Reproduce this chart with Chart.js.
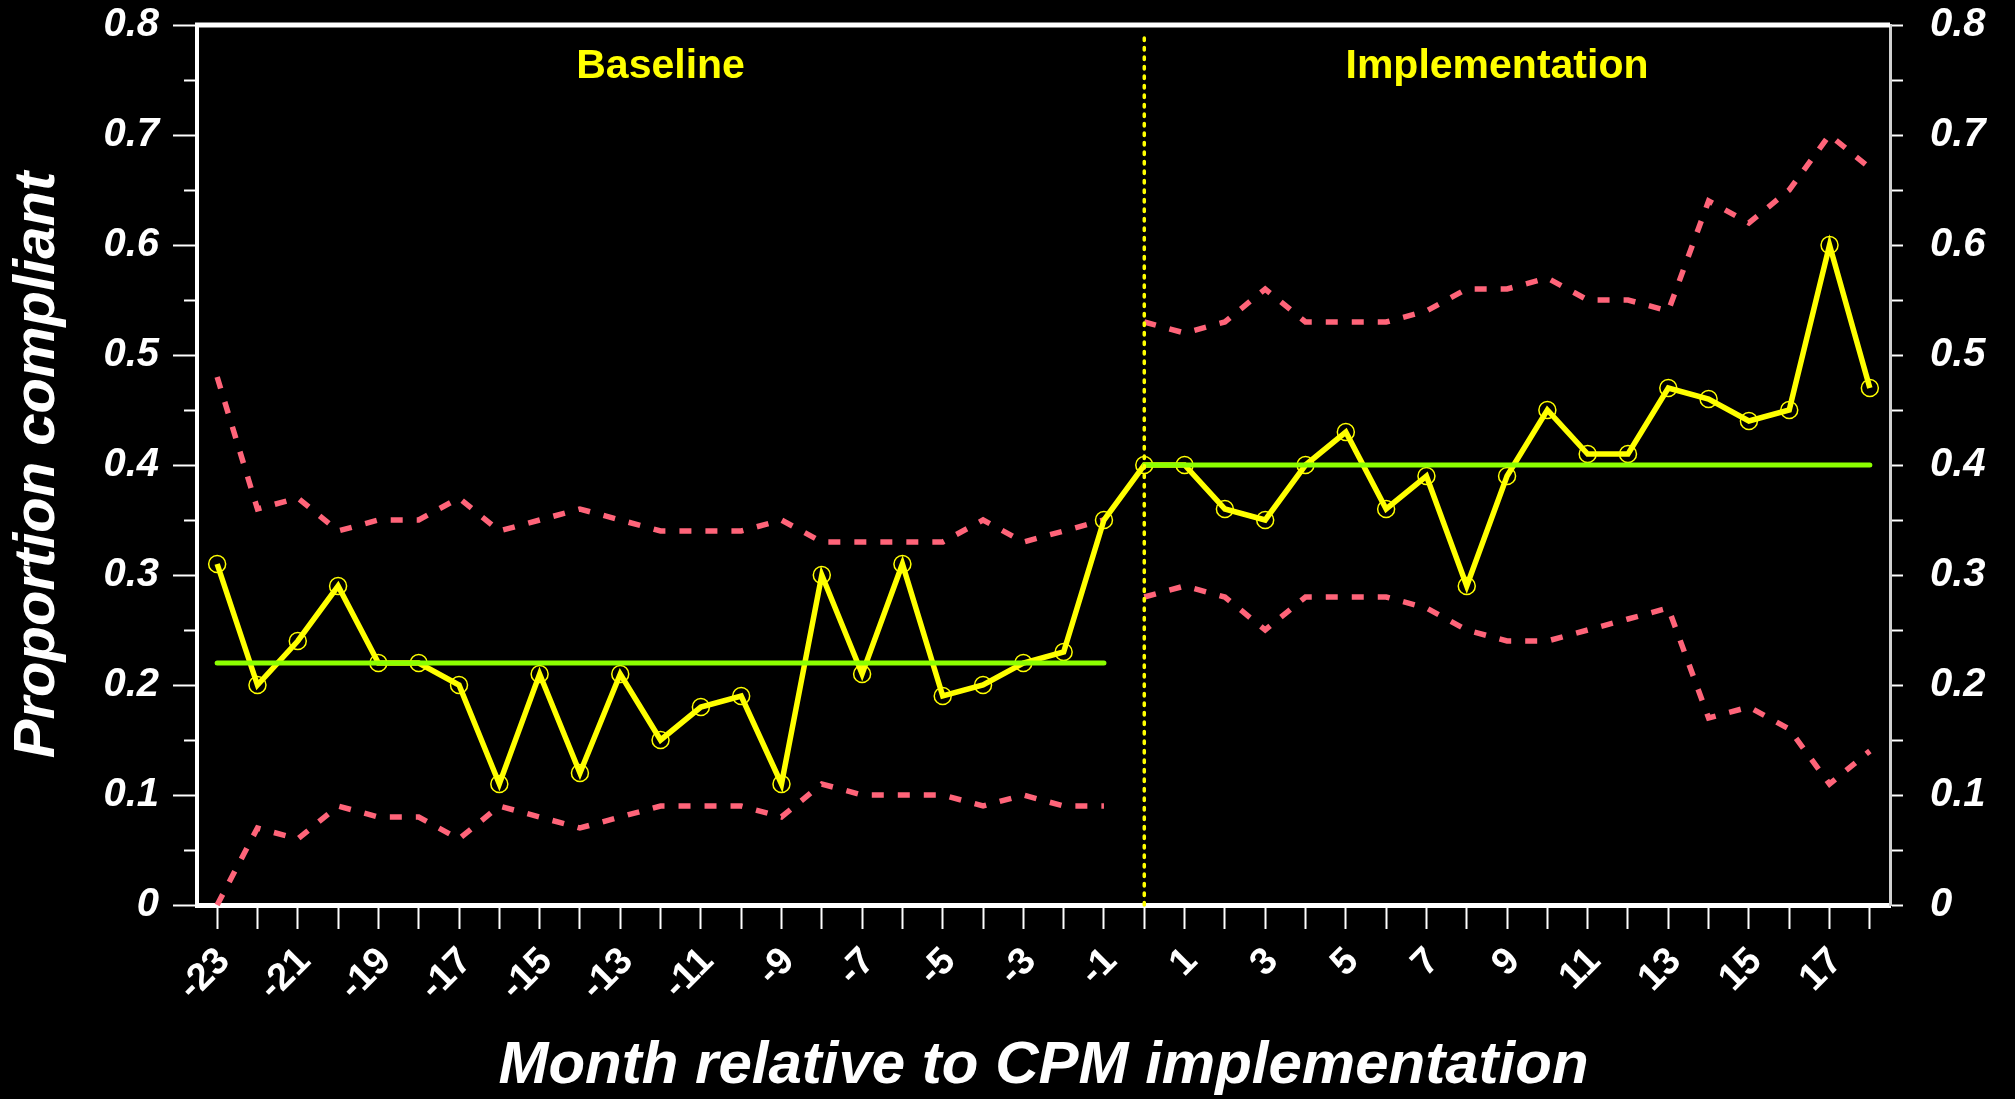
<!DOCTYPE html>
<html>
<head>
<meta charset="utf-8">
<title>Proportion compliant by month relative to CPM implementation</title>
<script src="https://cdn.jsdelivr.net/npm/chart.js@4/dist/chart.umd.min.js"></script>
<style>
  html, body { margin: 0; padding: 0; background: #000; }
  canvas { display: block; }
</style>
</head>
<body>
<canvas id="c" width="2015" height="1099"></canvas>
<script>
// Months relative to CPM implementation (month 0 = go-live)
const months = [-23, -22, -21, -20, -19, -18, -17, -16, -15, -14, -13, -12, -11, -10, -9, -8, -7, -6, -5, -4, -3, -2, -1,
                0, 1, 2, 3, 4, 5, 6, 7, 8, 9, 10, 11, 12, 13, 14, 15, 16, 17, 18];

// Monthly proportion compliant
const compliance = [0.31, 0.20, 0.24, 0.29, 0.22, 0.22, 0.20, 0.11, 0.21, 0.12, 0.21, 0.15, 0.18, 0.19, 0.11, 0.30, 0.21, 0.31, 0.19, 0.20, 0.22, 0.23, 0.35,
                    0.40, 0.40, 0.36, 0.35, 0.40, 0.43, 0.36, 0.39, 0.29, 0.39, 0.45, 0.41, 0.41, 0.47, 0.46, 0.44, 0.45, 0.60, 0.47];

// Control limits, baseline phase (months -23 .. -1)
const baselineUpper = [0.48, 0.36, 0.37, 0.34, 0.35, 0.35, 0.37, 0.34, 0.35, 0.36, 0.35, 0.34, 0.34, 0.34, 0.35, 0.33, 0.33, 0.33, 0.33, 0.35, 0.33, 0.34, 0.35];
const baselineLower = [0.00, 0.07, 0.06, 0.09, 0.08, 0.08, 0.06, 0.09, 0.08, 0.07, 0.08, 0.09, 0.09, 0.09, 0.08, 0.11, 0.10, 0.10, 0.10, 0.09, 0.10, 0.09, 0.09];

// Control limits, implementation phase (months 0 .. 18)
const implUpper = [0.53, 0.52, 0.53, 0.56, 0.53, 0.53, 0.53, 0.54, 0.56, 0.56, 0.57, 0.55, 0.55, 0.54, 0.64, 0.62, 0.65, 0.70, 0.67];
const implLower = [0.28, 0.29, 0.28, 0.25, 0.28, 0.28, 0.28, 0.27, 0.25, 0.24, 0.24, 0.25, 0.26, 0.27, 0.17, 0.18, 0.16, 0.11, 0.14];

// Phase centre lines
const baselineMean = 0.22;
const implMean = 0.40;

// Phase names
const phaseLabels = ['Baseline', 'Implementation'];

// Axis ticks
const yMajorTicks = [0, 0.1, 0.2, 0.3, 0.4, 0.5, 0.6, 0.7, 0.8];
const yMinorTicks = [0.05, 0.15, 0.25, 0.35, 0.45, 0.55, 0.65, 0.75];
const yAllTicks = [0, 0.05, 0.1, 0.15, 0.2, 0.25, 0.3, 0.35, 0.4, 0.45, 0.5, 0.55, 0.6, 0.65, 0.7, 0.75, 0.8];

const xTitle = 'Month relative to CPM implementation';
const yTitle = 'Proportion compliant';

// ---- derived series ----
const nBase = baselineUpper.length;
const baselineMonths = months.slice(0, nBase);
const implMonths = months.slice(nBase);
const pts = (xs, ys) => xs.map((x, i) => ({ x: x, y: ys[i] }));
const flat = (xs, v) => [{ x: xs[0], y: v }, { x: xs[xs.length - 1], y: v }];
const changeMonth = implMonths[0];

const FONT = "'Liberation Sans', Arial, Helvetica, sans-serif";
const YELLOW = '#ffff00';
const GREEN = '#8cff00';
const RED = '#ff6479';

const fmtY = v => String(Number(v.toFixed(2)));

// vertical axes: fixed width, no extra top/bottom padding from the labels
const fixVertical = w => s => { s.width = w; s.paddingTop = 0; s.paddingBottom = 0; };

const blackBackground = {
  id: 'blackBackground',
  beforeDraw(chart) {
    const ctx = chart.ctx;
    ctx.save();
    ctx.fillStyle = '#000';
    ctx.fillRect(0, 0, chart.width, chart.height);
    ctx.restore();
  }
};

// Top frame line, short minor ticks on the left axis and the phase names
const frameAndLabels = {
  id: 'frameAndLabels',
  afterDraw(chart) {
    const { ctx, chartArea } = chart;
    const x = chart.scales.x, y = chart.scales.y;
    ctx.save();
    ctx.strokeStyle = '#ffffff';
    ctx.lineWidth = 5;
    ctx.beginPath();
    ctx.moveTo(chartArea.left - 2, chartArea.top);
    ctx.lineTo(chartArea.right, chartArea.top);
    ctx.stroke();

    ctx.lineWidth = 2;
    ctx.beginPath();
    yMinorTicks.forEach(v => {
      const py = Math.round(y.getPixelForValue(v)) + 0.5;
      ctx.moveTo(chartArea.left - 13, py);
      ctx.lineTo(chartArea.left - 2, py);
    });
    ctx.stroke();

    ctx.fillStyle = YELLOW;
    ctx.font = 'bold 41px ' + FONT;
    ctx.textAlign = 'center';
    ctx.textBaseline = 'middle';
    const phaseCentres = [
      (baselineMonths[0] + baselineMonths[baselineMonths.length - 1]) / 2,
      (implMonths[0] + implMonths[implMonths.length - 1]) / 2 - 0.25
    ];
    phaseLabels.forEach((t, i) => {
      ctx.fillText(t, x.getPixelForValue(phaseCentres[i]), y.getPixelForValue(0.762));
    });
    ctx.restore();
  }
};

new Chart(document.getElementById('c'), {
  type: 'line',
  data: {
    datasets: [
      {
        label: 'Change point',
        data: [{ x: changeMonth, y: 0 }, { x: changeMonth, y: 0.79 }],
        borderColor: YELLOW, borderWidth: 3.5, borderDash: [2.5, 7], borderCapStyle: 'round',
        pointRadius: 0
      },
      {
        label: 'Baseline mean',
        data: flat(baselineMonths, baselineMean),
        borderColor: GREEN, borderWidth: 5, borderCapStyle: 'round', pointRadius: 0
      },
      {
        label: 'Implementation mean',
        data: flat(implMonths, implMean),
        borderColor: GREEN, borderWidth: 5, borderCapStyle: 'round', pointRadius: 0
      },
      {
        label: 'Proportion compliant',
        data: pts(months, compliance),
        borderColor: YELLOW, borderWidth: 5.5, borderJoinStyle: 'miter',
        pointRadius: 8.5, pointBorderWidth: 1.5, pointBorderColor: YELLOW,
        pointBackgroundColor: 'rgba(0,0,0,0)'
      },
      {
        label: 'Baseline UCL',
        data: pts(baselineMonths, baselineUpper),
        borderColor: RED, borderWidth: 5.5, borderDash: [12, 14], pointRadius: 0
      },
      {
        label: 'Baseline LCL',
        data: pts(baselineMonths, baselineLower),
        borderColor: RED, borderWidth: 5.5, borderDash: [12, 14], pointRadius: 0
      },
      {
        label: 'Implementation UCL',
        data: pts(implMonths, implUpper),
        borderColor: RED, borderWidth: 5.5, borderDash: [12, 14], pointRadius: 0
      },
      {
        label: 'Implementation LCL',
        data: pts(implMonths, implLower),
        borderColor: RED, borderWidth: 5.5, borderDash: [12, 14], pointRadius: 0
      }
    ]
  },
  options: {
    responsive: false,
    animation: false,
    devicePixelRatio: 1,
    clip: false,
    layout: { padding: { top: 25, left: 0, right: 0, bottom: 0 } },
    plugins: { legend: { display: false }, tooltip: { enabled: false } },
    elements: { line: { tension: 0, fill: false } },
    scales: {
      x: {
        type: 'linear',
        position: 'bottom',
        min: months[0] - 0.5,
        max: months[months.length - 1] + 0.5,
        afterBuildTicks: s => { s.ticks = months.map(v => ({ value: v })); },
        afterFit: s => { s.height = 194; },
        border: { display: true, color: '#ffffff', width: 5 },
        grid: { drawOnChartArea: false, drawTicks: true, tickLength: 24, tickColor: '#ffffff', tickWidth: 2 },
        ticks: {
          autoSkip: false,
          minRotation: 45, maxRotation: 45,
          padding: 10,
          labelOffset: 7,
          color: '#ffffff',
          font: { family: FONT, size: 38, weight: 'bold' },
          callback: v => (v % 2 !== 0 ? String(v) : '')
        },
        title: {
          display: true, text: xTitle, color: '#ffffff',
          font: { family: FONT, size: 60, weight: 'bold', style: 'italic', lineHeight: 1 },
          padding: { top: 0, bottom: 3 }
        }
      },
      y: {
        type: 'linear',
        position: 'left',
        min: 0, max: 0.8,
        afterBuildTicks: s => { s.ticks = yMajorTicks.map(v => ({ value: v })); },
        afterFit: fixVertical(197),
        border: { display: true, color: '#ffffff', width: 4 },
        grid: { drawOnChartArea: false, drawTicks: true, tickLength: 24, tickColor: '#ffffff', tickWidth: 2 },
        ticks: {
          padding: 14,
          color: '#ffffff',
          font: { family: FONT, size: 40, weight: 'bold', style: 'italic' },
          callback: v => fmtY(v)
        },
        title: {
          display: true, text: yTitle, color: '#ffffff',
          font: { family: FONT, size: 58, weight: 'bold', style: 'italic', lineHeight: 1 },
          padding: { top: 9, bottom: 0 }
        }
      },
      y2: {
        type: 'linear',
        position: 'right',
        min: 0, max: 0.8,
        afterBuildTicks: s => { s.ticks = yAllTicks.map(v => ({ value: v })); },
        afterFit: fixVertical(125),
        border: { display: true, color: '#d0d0d0', width: 3 },
        grid: { drawOnChartArea: false, drawTicks: true, tickLength: 13, tickColor: '#ffffff', tickWidth: 2 },
        ticks: {
          padding: 27,
          color: '#ffffff',
          font: { family: FONT, size: 40, weight: 'bold', style: 'italic' },
          callback: v => (Math.round(v * 100) % 10 === 0 ? fmtY(v) : '')
        }
      }
    }
  },
  plugins: [blackBackground, frameAndLabels]
});
</script>
</body>
</html>
